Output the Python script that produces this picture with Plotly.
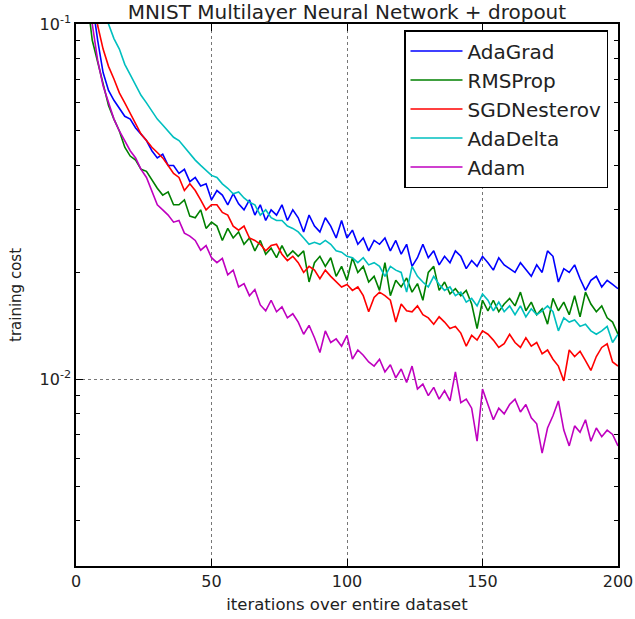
import plotly.graph_objects as go

iterations = list(range(2, 201, 2))

adagrad = [0.25, 0.16, 0.115, 0.090, 0.073, 0.065, 0.061, 0.058, 0.055, 0.054,
           0.051, 0.049, 0.047, 0.044, 0.042, 0.043, 0.040, 0.040, 0.038, 0.039,
           0.036, 0.037, 0.035, 0.0355, 0.032, 0.034, 0.033, 0.031, 0.0333, 0.0312,
           0.030, 0.032, 0.029, 0.031, 0.028, 0.030, 0.029, 0.031, 0.028, 0.030,
           0.0285, 0.026, 0.029, 0.027, 0.026, 0.0285, 0.027, 0.025, 0.028, 0.025,
           0.0263, 0.024, 0.025, 0.023, 0.0246, 0.024, 0.025, 0.023, 0.0246, 0.0225,
           0.024, 0.0208, 0.022, 0.024, 0.022, 0.023, 0.021, 0.0222, 0.0213, 0.023,
           0.0222, 0.0205, 0.0216, 0.0208, 0.0222, 0.0213, 0.0203, 0.022, 0.021, 0.0205,
           0.020, 0.0213, 0.0203, 0.0195, 0.021, 0.020, 0.023, 0.0222, 0.0188, 0.0205,
           0.020, 0.021, 0.0192, 0.0178, 0.019, 0.0195, 0.0182, 0.019, 0.0185, 0.018]

rmsprop = [0.20, 0.12, 0.090, 0.078, 0.067, 0.059, 0.054, 0.050, 0.045, 0.0425,
           0.0414, 0.039, 0.0385, 0.0364, 0.0345, 0.033, 0.0337, 0.031, 0.031, 0.032,
           0.0288, 0.0285, 0.030, 0.0266, 0.0277, 0.027, 0.0246, 0.0266, 0.025, 0.026,
           0.024, 0.025, 0.023, 0.0246, 0.0225, 0.0234, 0.022, 0.0238, 0.0222, 0.023,
           0.0222, 0.023, 0.0188, 0.0213, 0.0222, 0.0208, 0.022, 0.0195, 0.0208, 0.019,
           0.022, 0.020, 0.0208, 0.0188, 0.0195, 0.0178, 0.0213, 0.0172, 0.019, 0.0182,
           0.0193, 0.0176, 0.0186, 0.0167, 0.020, 0.0208, 0.0178, 0.0188, 0.0174, 0.018,
           0.0172, 0.0178, 0.0163, 0.0139, 0.0167, 0.0156, 0.0167, 0.0155, 0.0163, 0.0169,
           0.0161, 0.0176, 0.0156, 0.0165, 0.0152, 0.0158, 0.0143, 0.0169, 0.0156, 0.0165,
           0.0152, 0.0172, 0.0150, 0.0176, 0.0163, 0.0155, 0.0161, 0.0149, 0.0145, 0.0134]

sgdnesterov = [0.30, 0.18, 0.13, 0.099, 0.085, 0.076, 0.070, 0.064, 0.060, 0.056,
               0.052, 0.049, 0.047, 0.045, 0.0435, 0.042, 0.040, 0.038, 0.037, 0.034,
               0.0355, 0.034, 0.032, 0.030, 0.031, 0.031, 0.0295, 0.029, 0.027, 0.0263,
               0.027, 0.025, 0.0246, 0.024, 0.023, 0.0238, 0.024, 0.0225, 0.0216, 0.0222,
               0.0213, 0.020, 0.0208, 0.0203, 0.0192, 0.0203, 0.0195, 0.0188, 0.0182, 0.0185,
               0.0178, 0.0182, 0.0172, 0.0155, 0.017, 0.0176, 0.0172, 0.0167, 0.0145, 0.0163,
               0.0156, 0.0155, 0.0161, 0.0152, 0.0149, 0.0143, 0.015, 0.0145, 0.0139, 0.0141,
               0.0135, 0.0124, 0.0133, 0.0129, 0.0137, 0.0134, 0.0129, 0.0123, 0.0126, 0.0134,
               0.0127, 0.0123, 0.0131, 0.0124, 0.0127, 0.0118, 0.0121, 0.0114, 0.0109, 0.0099,
               0.0121, 0.0116, 0.012, 0.0113, 0.0106, 0.0116, 0.0123, 0.0126, 0.0112, 0.0109]

adadelta = [0.50, 0.30, 0.20, 0.15, 0.12, 0.100, 0.091, 0.085, 0.077, 0.072,
            0.067, 0.063, 0.060, 0.057, 0.054, 0.052, 0.050, 0.048, 0.047, 0.045,
            0.043, 0.0414, 0.040, 0.0388, 0.0375, 0.037, 0.0355, 0.0345, 0.0333, 0.0337,
            0.0324, 0.0315, 0.031, 0.029, 0.030, 0.0285, 0.028, 0.028, 0.027, 0.0266,
            0.026, 0.025, 0.024, 0.0243, 0.024, 0.0246, 0.024, 0.023, 0.0228, 0.0222,
            0.022, 0.0213, 0.022, 0.021, 0.0213, 0.0208, 0.0195, 0.0208, 0.0203, 0.020,
            0.0176, 0.0208, 0.0195, 0.0188, 0.0182, 0.0195, 0.0185, 0.0178, 0.0182, 0.0172,
            0.0176, 0.0165, 0.0169, 0.0161, 0.0174, 0.0167, 0.0156, 0.0165, 0.0155, 0.0161,
            0.0152, 0.0161, 0.015, 0.0158, 0.0152, 0.0156, 0.0161, 0.0155, 0.0137, 0.0149,
            0.0145, 0.0147, 0.0141, 0.0143, 0.0137, 0.0134, 0.0137, 0.0141, 0.0127, 0.0134]

adam = [0.22, 0.14, 0.100, 0.079, 0.067, 0.060, 0.054, 0.050, 0.047, 0.044,
        0.042, 0.039, 0.037, 0.034, 0.031, 0.030, 0.029, 0.0277, 0.028, 0.0258,
        0.0253, 0.0246, 0.0231, 0.0238, 0.0220, 0.0213, 0.0219, 0.0197, 0.0203, 0.0182,
        0.0186, 0.0172, 0.0179, 0.0162, 0.0156, 0.0167, 0.0155, 0.0160, 0.0149, 0.0153,
        0.0145, 0.0134, 0.0142, 0.0131, 0.0119, 0.0137, 0.0127, 0.0130, 0.0124, 0.0133,
        0.0114, 0.0121, 0.0117, 0.0112, 0.0109, 0.0114, 0.0105, 0.0110, 0.0101, 0.0107,
        0.0098, 0.0109, 0.0094, 0.0097, 0.0090, 0.0095, 0.0088, 0.0093, 0.0087, 0.0105,
        0.0086, 0.0088, 0.0083, 0.0067, 0.0094, 0.0085, 0.0077, 0.0083, 0.0080, 0.0085,
        0.0088, 0.0081, 0.0085, 0.0078, 0.0075, 0.0062, 0.0073, 0.0079, 0.0087, 0.0072,
        0.0065, 0.0074, 0.0071, 0.0077, 0.0067, 0.0073, 0.0069, 0.0072, 0.0070, 0.0065]

series_names = ["AdaGrad", "RMSProp", "SGDNesterov", "AdaDelta", "Adam"]
series_values = [adagrad, rmsprop, sgdnesterov, adadelta, adam]
series_colors = ["#0000ff", "#008000", "#ff0000", "#00bfbf", "#bf00bf"]

x_tick_vals = [0, 50, 100, 150, 200]
x_tick_text = ["0", "50", "100", "150", "200"]
y_tick_vals = [0.01, 0.1]
y_tick_text = ["10<sup>-2</sup>", "10<sup>-1</sup>"]
y_minor_vals = [0.003, 0.004, 0.005, 0.006, 0.007, 0.008, 0.009,
                0.02, 0.03, 0.04, 0.05, 0.06, 0.07, 0.08, 0.09]

font_family = "DejaVu Sans"
text_color = "#222222"

fig = go.Figure()
for name, vals, col in zip(series_names, series_values, series_colors):
    fig.add_trace(go.Scatter(x=iterations, y=vals, mode="lines", name=name,
                             line=dict(color=col, width=1.6)))

fig.update_layout(
    width=635, height=619,
    margin=dict(l=76, r=17, t=24, b=53, autoexpand=False),
    paper_bgcolor="white", plot_bgcolor="white",
    font=dict(family=font_family, size=16, color=text_color),
    title=dict(text="MNIST Multilayer Neural Network + dropout",
               x=(76 + 542 / 2) / 635, xanchor="center", y=1 - 12 / 619, yanchor="middle",
               font=dict(size=20, color=text_color)),
    showlegend=True,
    legend=dict(x=(608 - 76) / 542, xanchor="right", y=1 - 6 / 542, yanchor="top",
                bgcolor="white", bordercolor="black", borderwidth=1.5,
                itemwidth=52,
                font=dict(size=20, color=text_color)),
)

fig.update_xaxes(
    range=[0, 200], tickvals=x_tick_vals, ticktext=x_tick_text,
    ticks="inside", ticklen=7, tickwidth=1.2, tickcolor="black",
    showline=True, linecolor="black", linewidth=1.5, mirror="allticks",
    showgrid=True, gridcolor="#777777", griddash="dot", gridwidth=1,
    zeroline=False, automargin=False,
    title=dict(text="iterations over entire dataset", font=dict(size=16.5), standoff=8),
    tickfont=dict(size=16),
)

fig.update_yaxes(
    type="log", range=[-2.525, -1],
    tickvals=y_tick_vals, ticktext=y_tick_text,
    ticks="inside", ticklen=7, tickwidth=1.2, tickcolor="black",
    showline=True, linecolor="black", linewidth=1.5, mirror="allticks",
    showgrid=True, gridcolor="#777777", griddash="dot", gridwidth=1,
    zeroline=False, automargin=False,
    minor=dict(tickvals=y_minor_vals, ticks="inside", ticklen=4, tickcolor="black",
               showgrid=False),
    title=dict(text="training cost", font=dict(size=15), standoff=14),
    tickfont=dict(size=16),
)

fig.write_html("out.html")
